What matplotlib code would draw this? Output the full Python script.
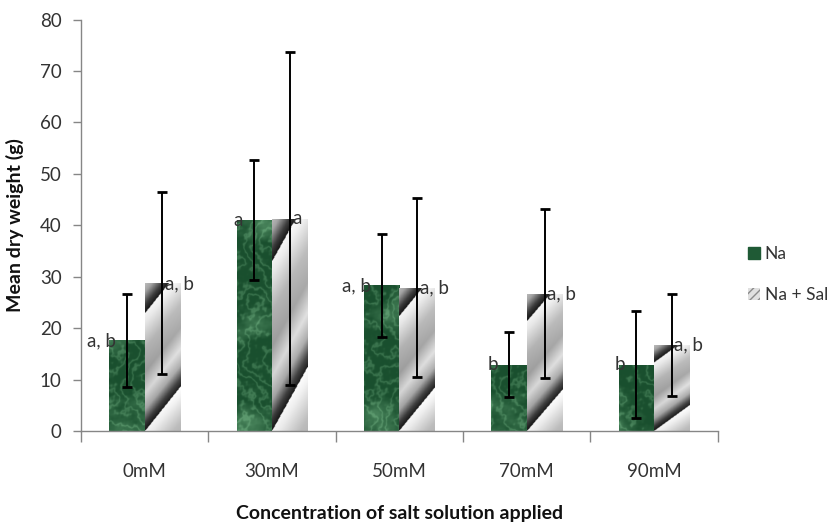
import numpy as np
import matplotlib
matplotlib.use("Agg")
import matplotlib.pyplot as plt
from matplotlib.patches import Patch

# ---- data ----
categories = ["0mM", "30mM", "50mM", "70mM", "90mM"]
na_mean = [17.6, 41.0, 28.3, 12.9, 12.9]
na_err = [9.0, 11.7, 10.1, 6.3, 10.4]
nasal_mean = [28.7, 41.3, 27.9, 26.7, 16.7]
nasal_err = [17.7, 32.4, 17.4, 16.4, 9.9]
na_labels = ["a, b", "a", "a, b", "b", "b"]
nasal_labels = ["a, b", "a", "a, b", "a, b", "a, b"]
series_names = ["Na", "Na + Sal"]
yticks = [0, 10, 20, 30, 40, 50, 60, 70, 80]

plt.rcParams['font.family'] = ['Lato', 'DejaVu Sans']

fig = plt.figure(figsize=(8.27, 5.28), dpi=100)
ax = fig.add_axes([0.098, 0.1837, 0.770, 0.7793])

x = np.arange(len(categories))
w = 0.278
green = '#1f5a35'

bars_na = ax.bar(x - w / 2, na_mean, w, color=green, zorder=2)
bars_ns = ax.bar(x + w / 2, nasal_mean, w, color='#cccccc', zorder=2)

# ---- textures ----
def turbulence(X, Y):
    tot = np.zeros_like(X)
    amp = 1.0
    freq = 0.05
    for k in range(7):
        ang = k * 2.39996
        ph = k * 1.618 * 3.1
        tot += amp * np.sin(freq * (np.cos(ang) * X + np.sin(ang) * Y) + ph)
        ang2 = ang + 1.1
        tot += amp * 0.7 * np.sin(freq * 1.3 * (np.cos(ang2) * X + np.sin(ang2) * Y) + ph * 0.7)
        amp *= 0.62
        freq *= 1.75
    return tot

def green_texture(x0, x1, y0, y1, nx=80, ny=320):
    xs = np.linspace(x0, x1, nx) * 127.4
    ys = np.linspace(y1, y0, ny) * 5.14
    X, Y = np.meshgrid(xs, ys)
    tb = turbulence(X, Y)
    tb2 = turbulence(Y * 1.1 + 37, X * 0.9 + 11)
    m = np.sin(0.08 * X + 0.05 * Y + 2.5 * tb)
    veins = np.exp(-(m / 0.45) ** 2) * 0.5 + np.clip(tb2, 0, None) * 0.22
    veins = np.clip(veins, 0, 1)
    dark = np.array([0.10, 0.31, 0.18])
    light = np.array([0.36, 0.60, 0.43])
    img = dark[None, None, :] + (light - dark)[None, None, :] * veins[..., None]
    return np.clip(img, 0, 1)

def gray_texture(nx=60, ny=240):
    u = np.linspace(0, 1, nx)
    v = np.linspace(0, 1, ny)
    U, V = np.meshgrid(u, v)
    t = 0.3 * U + V
    p = np.mod((t - 0.2) / 0.8, 1.0)
    cp = [0.0, 0.08, 0.3, 0.5, 0.68, 0.82, 0.93, 1.0]
    cv = [0.98, 0.93, 0.72, 0.64, 0.86, 0.66, 0.25, 0.10]
    val = np.interp(p, cp, cv) + 0.05 * (U - 0.5)
    val = np.clip(val, 0, 1)
    return np.dstack([val, val, val])

for b in bars_na:
    x0, y0 = b.get_x(), b.get_y()
    x1, y1 = x0 + b.get_width(), y0 + b.get_height()
    im = ax.imshow(green_texture(x0, x1, y0, y1), extent=[x0, x1, y0, y1],
                   aspect='auto', interpolation='bilinear', zorder=2.5)
    im.set_clip_path(b)

for b in bars_ns:
    x0, y0 = b.get_x(), b.get_y()
    x1, y1 = x0 + b.get_width(), y0 + b.get_height()
    im = ax.imshow(gray_texture(), extent=[x0, x1, y0, y1],
                   aspect='auto', interpolation='bilinear', zorder=2.5)
    im.set_clip_path(b)

# ---- error bars ----
ax.errorbar(x - w / 2, na_mean, yerr=na_err, fmt='none', ecolor='black',
            elinewidth=1.4, capsize=3.5, capthick=2, zorder=4)
ax.errorbar(x + w / 2, nasal_mean, yerr=nasal_err, fmt='none', ecolor='black',
            elinewidth=1.4, capsize=3.5, capthick=2, zorder=4)

# ---- data labels ----
for i in range(len(categories)):
    ax.text(x[i] - w + 0.05, na_mean[i], na_labels[i], ha='right', va='center',
            fontsize=13.5, color='#333333', zorder=5)
    ax.text(x[i] + w / 2 + 0.02, nasal_mean[i], nasal_labels[i], ha='left', va='center',
            fontsize=13.5, color='#333333', zorder=5)

# ---- axes ----
ax.set_xlim(-0.5, len(categories) - 0.5)
ax.set_ylim(0, 80)
ax.set_yticks(yticks)
ax.set_xticks(x)
ax.set_xticklabels(categories)
ax.set_xticks(np.arange(len(categories) + 1) - 0.5, minor=True)
ax.tick_params(axis='x', which='major', length=0, pad=23, labelsize=13.5, labelcolor='#333333')
ax.tick_params(axis='x', which='minor', length=8, width=1, color='#868686', direction='out')
ax.tick_params(axis='y', length=6, width=1, color='#868686', pad=8, labelsize=13.5,
               labelcolor='#333333', direction='out')
for s in ['top', 'right']:
    ax.spines[s].set_visible(False)
for s in ['left', 'bottom']:
    ax.spines[s].set_color('#868686')
    ax.spines[s].set_linewidth(1)

ax.set_ylabel("Mean dry weight (g)", fontsize=14, fontweight='bold', color='#111111', labelpad=11)
ax.set_xlabel("Concentration of salt solution applied", fontsize=14, fontweight='bold',
              color='#111111', labelpad=18)

handles = [Patch(facecolor=green, edgecolor=green),
           Patch(facecolor='#e0e0e0', edgecolor='#8a8a8a', hatch='////', linewidth=0)]
fig.legend(handles, series_names, loc='center left', bbox_to_anchor=(0.9045, 0.48),
           frameon=False, fontsize=12.5, handlelength=0.7, handleheight=0.7,
           handletextpad=0.25, labelspacing=1.45, borderaxespad=0, borderpad=0,
           labelcolor='#333333')

fig.savefig("out.png", dpi=100)
